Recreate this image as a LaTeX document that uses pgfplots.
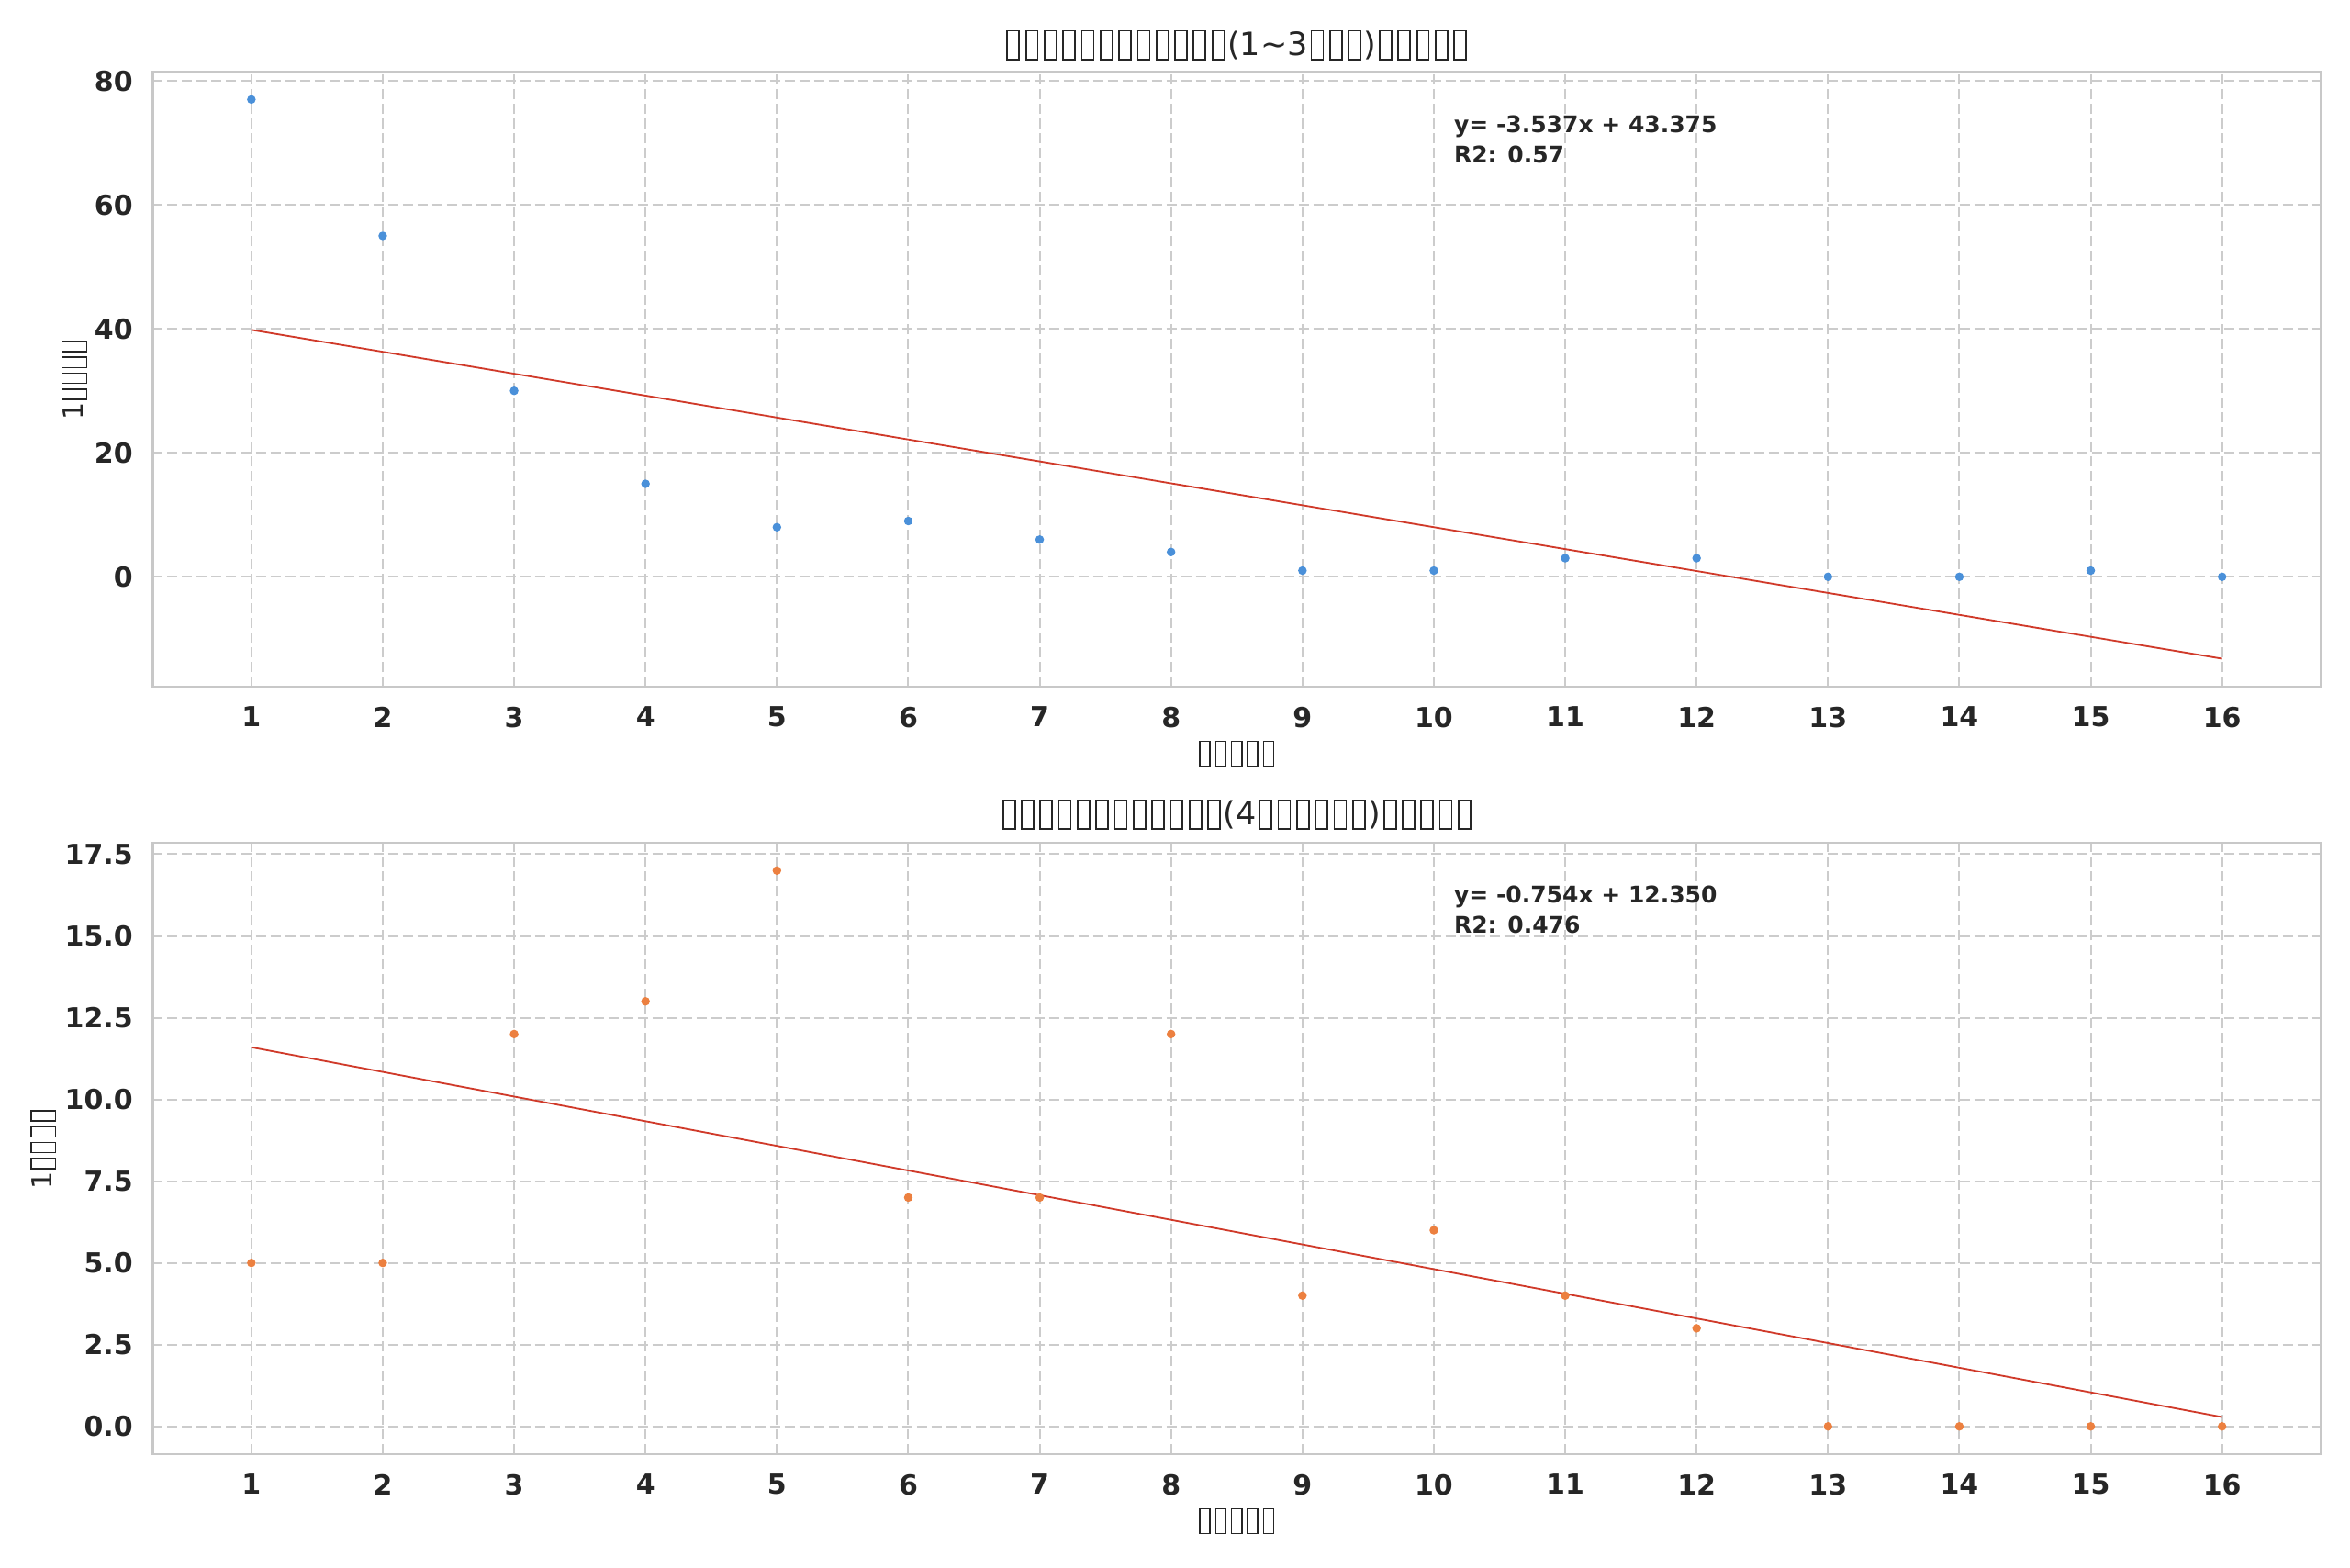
\documentclass[border=0pt]{standalone}
\usepackage{pgfplots}
\pgfplotsset{compat=1.18}
\usepackage{fontspec}
\setmainfont{DejaVu Sans}
\definecolor{txt}{HTML}{262626}
\definecolor{gridc}{HTML}{CCCCCC}
\definecolor{frame}{HTML}{C8C8C8}
\definecolor{ptblue}{HTML}{4A90D9}
\definecolor{ptorange}{HTML}{EC8040}
\definecolor{fitred}{HTML}{D03A2A}
\newcommand\tofu{\kern0.08em{\setlength\fboxsep{0pt}\setlength\fboxrule{0.05em}\fbox{\vrule width 0pt height 0.73em depth 0.11em\hspace{0.32em}}}\kern0.08em}
\newcommand\tofus[1]{\foreach \i in {1,...,#1}{\tofu}}
\pgfplotsset{
  every axis title shift=0pt,
  myax/.style={
    scale only axis, width=708.45pt,
    xmin=0.25, xmax=16.75,
    xtick={1,...,16},
    axis line style={frame, line width=0.8pt},
    grid=both, major grid style={gridc, dashed, dash pattern=on 3.3pt off 1.5pt, line width=0.6pt},
    tick style={draw=none},
    ticklabel style={font=\bfseries\fontsize{9}{10}\selectfont, text=txt},
    /pgf/number format/assume math mode=true,
    xticklabel style={yshift=-3pt},
    yticklabel style={xshift=-3pt},
    title style={font=\fontsize{10.5}{12}\selectfont, text=txt, at={(0.5,1)}, anchor=base},
    label style={font=\fontsize{9}{10}\selectfont, text=txt},
    xlabel style={at={(axis description cs:0.5,0)}, anchor=center, yshift=-21.9pt},
    xlabel={\tofus{5}},
  }
}
\begin{document}
\begin{tikzpicture}
\path[use as bounding box] (-49.95pt,-287.7pt) rectangle (718.05pt,224.4pt);
\begin{axis}[myax, at={(0,0)}, anchor=south west, height=201pt,
  ymin=-17.73, ymax=81.5, ytick={0,20,40,60,80},
  title style={yshift=5.4pt},
  title={\tofus{12}(1\char"223C 3\tofus{3})\tofus{5}},
  ylabel style={at={(axis description cs:-0.0362,0.5)}, anchor=center},
  ylabel={1\tofus{4}}]
\addplot[only marks, mark=*, mark size=1.2pt, color=ptblue] coordinates {
(1,77)(2,55)(3,30)(4,15)(5,8)(6,9)(7,6)(8,4)(9,1)(10,1)(11,3)(12,3)(13,0)(14,0)(15,1)(16,0)};
\addplot[fitred, line width=0.55pt] coordinates {(1,39.838)(16,-13.217)};
\node[anchor=north west, inner sep=0pt, align=left, text=txt, font=\bfseries\fontsize{7.5}{9.9}\selectfont] at (rel axis cs:0.6,0.93) {y= -3.537x + 43.375\\R2: 0.57};
\end{axis}
\begin{axis}[myax, at={(0,-250.8pt)}, anchor=south west, height=199.8pt,
  ymin=-0.85, ymax=17.85, ytick={0,2.5,5,7.5,10,12.5,15,17.5},
  yticklabel style={/pgf/number format/.cd, fixed, fixed zerofill, precision=1},
  title style={yshift=6pt},
  title={\tofus{12}(4\tofus{6})\tofus{5}},
  ylabel style={at={(axis description cs:-0.0505,0.5)}, anchor=center},
  ylabel={1\tofus{4}}]
\addplot[only marks, mark=*, mark size=1.2pt, color=ptorange] coordinates {
(1,5)(2,5)(3,12)(4,13)(5,17)(6,7)(7,7)(8,12)(9,4)(10,6)(11,4)(12,3)(13,0)(14,0)(15,0)(16,0)};
\addplot[fitred, line width=0.55pt] coordinates {(1,11.596)(16,0.286)};
\node[anchor=north west, inner sep=0pt, align=left, text=txt, font=\bfseries\fontsize{7.5}{9.9}\selectfont] at (rel axis cs:0.6,0.93) {y= -0.754x + 12.350\\R2: 0.476};
\end{axis}
\end{tikzpicture}
\end{document}
